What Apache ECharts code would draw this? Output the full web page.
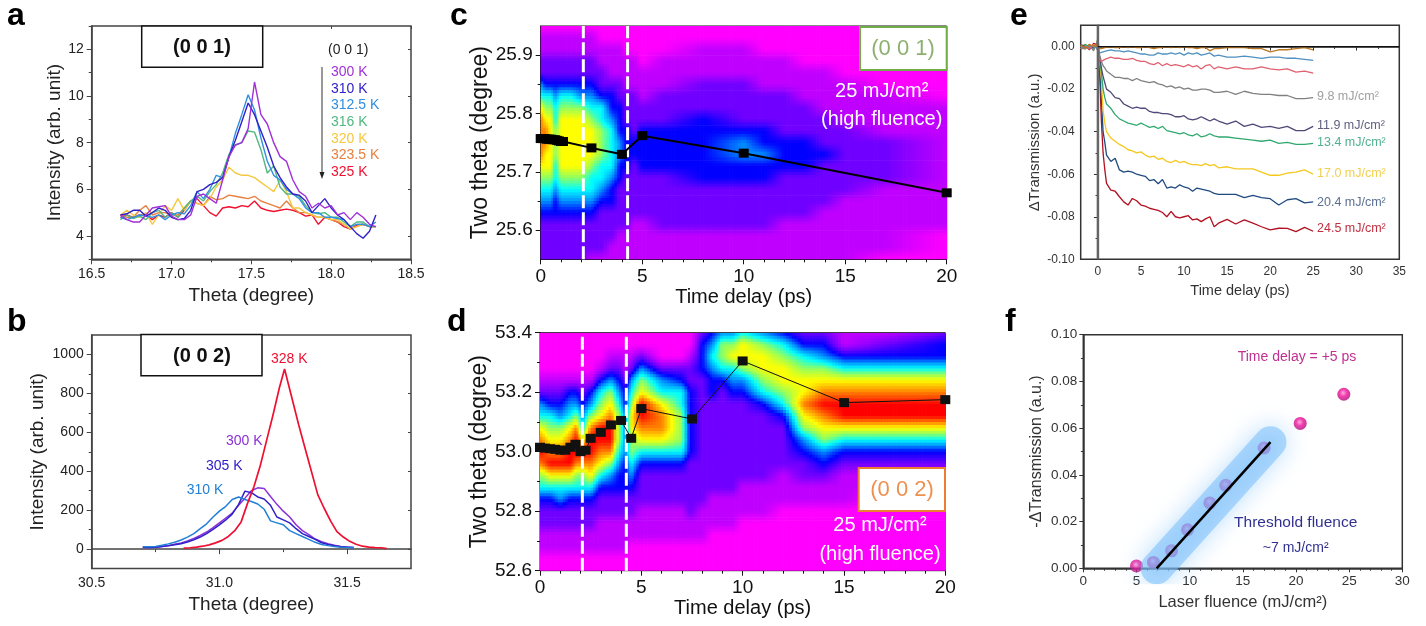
<!DOCTYPE html>
<html><head><meta charset="utf-8">
<style>html,body{margin:0;padding:0;background:#fff}#c{width:1426px;height:626px}</style>
<script src="https://cdn.jsdelivr.net/npm/echarts@6/dist/echarts.min.js"></script>
</head><body><div id="c"></div>
<script>
// ---------- panel a ----------
const thetaA=[16.68,16.72,16.76,16.80,16.84,16.88,16.92,16.96,17.00,17.04,17.08,17.12,17.16,17.20,17.24,17.28,17.32,17.36,17.40,17.44,17.48,17.52,17.56,17.60,17.64,17.68,17.72,17.76,17.80,17.84,17.88,17.92,17.96,18.00,18.04,18.08,18.12,18.16,18.20,18.24,18.28];
const a300=[4.9,4.7,4.6,4.6,4.9,5.2,5.25,5.3,4.85,4.7,4.7,4.9,5.7,5.8,5.6,5.4,6.4,7.4,7.9,8.0,8.6,10.6,9.2,8.8,8.0,7.4,7.2,6.4,5.9,5.7,5.2,5.4,5.2,5.3,4.9,5.0,4.7,5.0,4.8,4.5,4.4];
const a310=[4.9,4.95,5.1,5.1,4.85,5.0,5.2,5.1,4.8,4.7,4.75,5.1,5.9,6.0,6.2,6.3,6.5,7.4,8.1,8.9,9.7,9.2,8.5,7.8,7.0,6.5,6.1,5.8,5.75,5.5,5.0,5.3,5.6,5.2,4.9,4.7,4.4,4.1,3.9,4.2,4.9];
const a3125=[4.8,4.7,4.8,4.9,4.85,4.8,4.9,4.7,4.9,5.0,4.95,5.3,5.9,5.6,6.0,6.6,6.5,7.4,8.4,9.2,10.05,9.4,8.2,7.2,6.6,6.4,6.0,5.8,5.6,5.2,5.0,5.0,4.8,4.8,4.75,4.7,4.4,4.5,4.5,4.4,4.6];
const a316=[4.7,4.9,4.75,4.85,4.7,5.0,5.1,4.8,5.0,4.8,5.2,5.5,5.7,5.5,5.9,6.2,6.7,7.5,7.9,8.0,8.5,8.45,7.7,6.7,7.0,6.1,5.8,5.8,5.7,5.3,5.0,4.95,5.0,4.8,4.8,4.6,4.4,4.6,4.6,4.4,4.4];
const a320=[4.9,5.1,4.9,4.8,5.0,4.5,4.9,5.3,5.1,5.6,5.1,5.5,5.4,5.3,5.6,6.1,6.4,6.95,6.7,6.6,6.6,6.5,6.3,6.1,5.9,6.4,5.9,5.2,5.2,5.0,4.9,4.8,4.8,4.7,4.7,4.5,4.3,4.4,4.5,4.4,4.4];
const a3235=[4.9,4.8,4.8,5.1,5.3,4.9,5.0,5.0,4.9,4.9,5.2,5.5,5.4,5.3,5.7,5.55,5.6,5.75,5.7,5.65,5.6,5.7,5.5,5.4,5.3,5.2,5.5,5.2,5.0,5.0,4.9,4.8,4.8,4.7,4.6,4.5,4.3,4.4,4.5,4.4,4.4];
const a325=[4.8,4.9,4.8,4.9,4.9,4.7,4.9,4.8,5.0,4.8,5.1,5.5,5.6,5.3,5.0,4.85,5.2,5.25,5.2,5.3,5.25,5.5,5.2,5.1,5.05,5.1,5.15,5.1,5.0,4.85,4.9,4.5,4.8,4.7,4.6,4.4,4.3,4.45,4.5,4.4,4.4];
const aNames=['300 K','310 K','312.5 K','316 K','320 K','323.5 K','325 K'];
const aColors=['#a030d8','#3020c8','#2f8fe0','#50b880','#f5c840','#e88040','#f01030'];
// ---------- panel b ----------
const thetaB=[30.70,30.725,30.75,30.775,30.80,30.825,30.85,30.875,30.90,30.925,30.95,30.975,31.00,31.025,31.05,31.075,31.10,31.125,31.15,31.175,31.20,31.225,31.25,31.275,31.30,31.325,31.35,31.375,31.40,31.425,31.45,31.475,31.50,31.525];
const b300=[8,8,10,14,18,25,32,42,55,70,88,110,135,160,185,225,262,300,315,312,270,230,195,165,125,95,75,52,38,28,20,14,11,8];
const b305=[10,9,10,13,17,22,28,37,48,62,80,102,125,150,180,230,298,290,268,258,225,165,150,135,105,80,65,50,33,24,17,12,10,9];
const b310=[12,12,14,20,27,35,47,62,80,105,130,165,195,220,255,268,255,245,232,205,145,135,125,95,80,65,50,35,24,18,13,10,9,8];
const thetaR=[30.86,30.885,30.91,30.935,30.96,30.985,31.01,31.035,31.06,31.085,31.11,31.135,31.16,31.185,31.21,31.235,31.255,31.285,31.31,31.335,31.36,31.385,31.41,31.435,31.46,31.485,31.51,31.535,31.56,31.585,31.61,31.635,31.655];
const b328=[5,7,10,15,22,32,45,65,95,140,235,320,430,560,690,830,925,770,640,520,400,280,210,145,90,62,40,25,15,10,8,7,3];
// ---------- panel c ----------
const rowsC=[25.95,25.93,25.91,25.89,25.87,25.85,25.83,25.81,25.79,25.77,25.75,25.73,25.71,25.69,25.67,25.65,25.63,25.61,25.59,25.57,25.55];
const timeC=[0,0.25,0.5,0.7,1,1.5,2,2.5,3,3.5,3.9,4.2,4.6,5,6,8,10,11,12,13,14,15,17,20];
const heatC=[
[0,1,1,2,2,4,5,7,8,8,8,8,7,6,5,4,3,2,2,2,2],
[0,1,1,2,2,3,5,6,7,8,8,7,7,6,5,4,3,2,2,2,2],
[0,1,1,2,2,3,5,6,7,7,7,7,7,6,5,4,3,2,2,2,2],
[0,1,1,2,2,3,4,5,5,6,6,6,5,5,4,3,3,2,2,2,2],
[0,1,1,2,2,3,5,6,7,7,7,7,7,6,5,4,3,2,2,2,2],
[0,1,1,2,2,3,5,6,7,7,7,7,7,6,5,4,3,2,2,2,2],
[0,1,1,2,2,3,4,6,7,7,7,7,7,6,5,4,3,2,2,2,2],
[0,1,1,2,2,3,4,5,6,7,7,7,6,5,5,4,3,2,2,2,1],
[0,0,1,1,2,2,3,5,5,6,6,6,5,5,4,3,2,2,2,2,1],
[0,0,1,1,1,2,3,3,4,5,5,5,5,4,3,3,2,2,2,1,1],
[0,0,1,1,1,2,2,3,3,3,4,4,3,3,2,2,2,2,1,1,1],
[0,0,0,1,1,1,2,2,2,3,3,3,3,2,2,2,2,2,1,1,1],
[0,0,0,1,1,1,2,2,2,2,3,3,2,2,2,2,2,1,1,1,1],
[0,0,0,0,1,1,1,2,2,3,3,3,3,2,2,2,2,1,1,1,1],
[0,0,0,1,1,1,2,2,2,3,3,3,3,2,2,2,2,2,1,1,1],
[0,0,1,1,1,2,2,2,3,3,3,3,3,3,2,2,2,2,1,1,1],
[0,0,1,1,1,2,2,2,2,3,4,4,3,3,2,2,2,2,1,1,1],
[0,0,0,1,1,1,2,2,2,3,3,4,3,3,2,2,2,2,1,1,1],
[0,0,0,1,1,1,2,2,2,2,3,3,3,2,2,2,2,1,1,1,1],
[0,0,0,0,1,1,1,2,2,2,3,3,3,2,2,2,2,1,1,1,1],
[0,0,0,0,1,1,1,1,2,2,2,3,2,2,2,2,1,1,1,1,1],
[0,0,0,0,0,1,1,1,1,2,2,2,2,2,2,1,1,1,1,1,1],
[0,0,0,0,0,0,1,1,1,1,2,2,2,2,1,1,1,1,1,1,0],
[0,0,0,0,0,0,0,1,1,1,1,1,1,1,1,1,1,1,0,0,0]];
const peakTimeC=[0,0.1,0.2,0.3,0.4,0.5,0.6,0.7,0.8,0.9,1.0,1.1,2.5,4,5,10,20];
const peakPosC=[25.757,25.757,25.757,25.756,25.756,25.756,25.755,25.755,25.754,25.753,25.752,25.752,25.741,25.73,25.762,25.732,25.664];
// ---------- panel d ----------
const rowsD=[53.40,53.36,53.32,53.28,53.24,53.20,53.16,53.12,53.08,53.04,53.00,52.96,52.92,52.88,52.84,52.80,52.76,52.72,52.68,52.64,52.60];
const timeD=[0,0.5,1,1.5,1.8,2.1,2.5,3,3.5,3.9,4.2,4.5,5,6,7,7.4,8,8.5,9,9.5,10,11,12,13,14,15,17,20];
const heatD=[
[0,0,0,0,1,2,4,5,7,8,9,8,6,5,3,2,2,1,1,0,0],
[0,0,0,0,1,2,3,5,6,7,8,9,7,5,3,2,2,1,1,0,0],
[0,0,0,0,1,2,3,4,6,7,8,9,7,5,4,2,2,1,1,0,0],
[0,0,0,0,1,3,4,5,7,8,9,9,7,5,3,2,2,1,1,0,0],
[0,0,0,0,1,3,4,6,8,9,9,8,6,5,3,2,2,1,1,0,0],
[0,0,0,0,1,2,3,4,5,7,9,8,6,5,3,2,2,1,1,0,0],
[0,0,0,0,1,3,4,6,8,9,9,8,7,5,3,2,2,1,1,0,0],
[0,0,0,1,3,5,6,7,9,9,8,7,5,3,2,2,1,1,1,0,0],
[0,0,1,2,4,6,7,8,9,9,8,6,4,3,2,2,1,1,1,0,0],
[0,0,1,2,3,4,5,6,6,6,5,4,3,3,2,2,1,1,1,0,0],
[0,0,1,1,2,3,3,4,4,4,4,3,3,3,2,2,1,1,1,0,0],
[0,0,1,2,4,5,6,7,7,6,6,5,4,3,2,2,1,1,0,0,0],
[0,0,2,4,6,7,9,9,8,7,5,3,2,2,2,1,1,1,0,0,0],
[0,0,0,2,4,5,7,8,8,7,5,3,2,2,2,1,1,1,0,0,0],
[0,0,0,2,3,5,5,6,6,6,5,3,2,2,2,1,1,1,0,0,0],
[0,0,1,2,2,3,3,3,3,3,3,2,2,2,2,2,1,1,0,0,0],
[2,3,3,3,2,2,2,2,2,2,2,2,2,2,2,1,1,1,0,0,0],
[3,4,5,4,3,3,2,2,2,2,2,2,2,2,1,1,1,0,0,0,0],
[4,6,6,5,3,2,2,2,2,2,2,2,2,2,1,1,1,0,0,0,0],
[4,6,7,5,4,3,2,2,2,2,2,2,2,2,1,1,1,0,0,0,0],
[5,7,7,6,4,3,2,2,2,2,2,2,2,1,1,1,0,0,0,0,0],
[4,6,7,7,6,5,3,2,2,2,2,2,2,1,1,1,0,0,0,0,0],
[3,5,6,7,7,6,5,3,2,2,2,2,1,1,1,0,0,0,0,0,0],
[2,3,5,6,7,7,8,7,6,4,3,2,2,1,1,0,0,0,0,0,0],
[2,3,4,6,7,8,9,8,7,6,4,3,2,1,1,0,0,0,0,0,0],
[1,1,3,5,7,8,9,9,7,5,3,2,1,1,1,0,0,0,0,0,0],
[1,2,3,5,7,8,9,9,7,5,3,2,1,1,0,0,0,0,0,0,0],
[2,3,3,5,7,8,9,9,7,5,3,2,1,1,0,0,0,0,0,0,0]];
const peakTimeD=[0,0.25,0.5,0.75,1,1.25,1.5,1.75,2,2.25,2.5,3,3.5,4,4.5,5,7.5,10,15,20];
const peakPosD=[53.015,53.012,53.01,53.008,53.005,53.005,53.015,53.025,53.0,53.005,53.045,53.065,53.09,53.105,53.045,53.145,53.11,53.305,53.165,53.175];
const dashC=[2.1,4.28];
const dashD=[2.09,4.26];
// ---------- panel e ----------
const timeE=[-2,-1.5,-1,-0.5,-0.2,0,0.2,0.4,0.6,0.8,1,1.5,2,2.5,3,3.5,4,4.5,5,5.5,6,6.5,7,7.5,8,8.5,9,9.5,10,10.5,11,11.5,12,12.5,13,13.5,14,15,16,17,18,19,20,21,22,23,24,25];
const e245=[-.001,.001,-.0015,.0015,.001,-.002,-.012,-.035,-.05,-.058,-.0643,-.0675,-.068,-.0706,-.073,-.0745,-.0714,-.0725,-.0745,-.075,-.076,-.0765,-.077,-.078,-.08,-.0775,-.08,-.0805,-.08,-.0795,-.0815,-.081,-.0823,-.081,-.08,-.0847,-.083,-.0812,-.0834,-.0815,-.083,-.0847,-.0862,-.0854,-.0855,-.087,-.085,-.0868];
const e204=[.001,-.001,.0005,-.001,.001,-.002,-.01,-.025,-.04,-.045,-.051,-.054,-.0525,-.058,-.059,-.0585,-.059,-.06,-.0605,-.061,-.063,-.0625,-.0645,-.0625,-.0665,-.066,-.0665,-.065,-.066,-.0665,-.068,-.0665,-.067,-.0675,-.068,-.069,-.0695,-.0695,-.0695,-.071,-.07,-.071,-.0715,-.0745,-.072,-.0715,-.0735,-.073];
const e170=[0,.001,-.001,.001,0,-.002,-.007,-.015,-.03,-.036,-.04,-.043,-.0445,-.046,-.047,-.0485,-.049,-.05,-.0495,-.051,-.052,-.0515,-.053,-.0525,-.054,-.0545,-.0535,-.0545,-.054,-.055,-.0555,-.0555,-.056,-.055,-.056,-.0555,-.057,-.0565,-.0575,-.0575,-.0575,-.059,-.0605,-.0605,-.0595,-.059,-.058,-.06];
const e134=[-.001,.001,0,-.001,.001,-.001,-.006,-.012,-.02,-.024,-.027,-.029,-.032,-.034,-.035,-.036,-.0365,-.037,-.036,-.037,-.038,-.0375,-.0385,-.0375,-.0395,-.04,-.0405,-.041,-.0405,-.0415,-.042,-.041,-.0425,-.042,-.041,-.042,-.0425,-.0425,-.043,-.0435,-.044,-.0445,-.044,-.0455,-.045,-.046,-.046,-.0455];
const e119=[.001,0,-.001,0,.001,-.001,-.005,-.01,-.014,-.017,-.02,-.0215,-.024,-.0245,-.027,-.028,-.029,-.0285,-.029,-.029,-.0305,-.031,-.031,-.0315,-.0315,-.032,-.033,-.033,-.0325,-.034,-.0345,-.034,-.033,-.034,-.035,-.034,-.035,-.0365,-.035,-.0375,-.0365,-.038,-.0375,-.0385,-.0375,-.0395,-.0395,-.0375];
const e98=[-.001,-.001,.001,-.002,.001,.004,-.004,-.007,-.009,-.01,-.0115,-.013,-.0145,-.0145,-.015,-.015,-.016,-.015,-.016,-.0165,-.017,-.0165,-.0175,-.018,-.019,-.0185,-.0195,-.019,-.02,-.0195,-.0205,-.0205,-.02,-.02,-.0205,-.0215,-.0215,-.021,-.0225,-.021,-.022,-.0225,-.0225,-.023,-.023,-.0245,-.0245,-.024];
const ePink=[-.001,0,-.001,.001,0,-.002,-.006,-.007,-.0065,-.006,-.0055,-.005,-.0055,-.0055,-.006,-.006,-.0055,-.0065,-.007,-.007,-.008,-.0085,-.0075,-.009,-.008,-.009,-.0085,-.009,-.0095,-.0085,-.0095,-.009,-.0105,-.009,-.0085,-.0105,-.0095,-.0105,-.0095,-.0105,-.0105,-.0095,-.0105,-.011,-.0105,-.012,-.0115,-.0125];
const eSlate=[0,-.001,.0005,0,-.0005,-.001,-.003,-.003,-.0025,-.002,-.002,-.0015,-.002,-.002,-.0025,-.002,-.0025,-.003,-.0035,-.0035,-.004,-.004,-.003,-.0035,-.0035,-.003,-.0035,-.003,-.004,-.003,-.0035,-.003,-.004,-.0035,-.003,-.0045,-.004,-.005,-.005,-.0045,-.005,-.0055,-.005,-.005,-.0055,-.0055,-.006,-.0065];
const eOrange=[.001,-.001,.001,0,.001,-.001,-.001,-.001,-.001,-.0005,-.0005,0,-.0005,-.0005,0,-.0005,0,-.0005,-.0005,0,-.0005,-.001,-.0005,-.0005,0,-.0005,0,-.0005,0,-.0005,-.0005,-.001,-.0005,-.0005,-.002,-.001,-.001,-.0005,-.0005,-.0005,-.001,-.001,-.0025,-.0015,-.0015,-.001,-.0005,-.0015];
const eColors=['#b01020','#1f4a80','#f5c820','#30a870','#504878','#808080','#e06070','#5090c0','#c07820'];
// ---------- panel f ----------
const fluence=[5,6.6,8.3,9.8,11.9,13.4,17,20.4,24.5];
const fTrans=[0.001,0.0025,0.0075,0.0165,0.028,0.0355,0.0515,0.062,0.0745];
const fitX=[6.9,17.6];
const fitY=[0,0.054];

const zip=(x,y)=>x.map((v,i)=>[v,y[i]]);
const FONT='"Liberation Sans",Arial,sans-serif';
const NARROW='"Liberation Sans Narrow","Liberation Sans",Arial,sans-serif';
const grids=[],xAxes=[],yAxes=[],series=[],graphics=[];

function range(a,b,s,d){const r=[];for(let v=a;v<=b+s/1000;v+=s)r.push(+v.toFixed(d+2));return r;}
function addAxis(list,gridIndex,pos,min,max,opt){
  list.push(Object.assign({gridIndex,type:'value',position:pos,min,max,scale:true,splitLine:{show:false},minorTick:{show:false},minorSplitLine:{show:false}},opt));
  return list.length-1;
}
function panel(p){
  const g=grids.length;
  grids.push({left:p.box[0],top:p.box[1],width:p.box[2],height:p.box[3],show:true,borderColor:p.frame,borderWidth:p.frameW,backgroundColor:'transparent',containLabel:false});
  const line={show:true,lineStyle:{color:p.frame,width:p.frameW}};
  const mk=(dim,list,pos,c)=>{
    const idx=addAxis(list,g,pos,c.min,c.max,{
      axisLine:line,
      axisTick:{show:true,length:p.tick,inside:false,customValues:c.major,lineStyle:{color:p.frame,width:1}},
      axisLabel:{show:true,customValues:c.major,margin:p.margin,fontFamily:p.tickFont,fontSize:p.tickSize,color:p.tickColor,formatter:v=>(+v).toFixed(c.d)},
      name:c.name,nameLocation:'middle',nameGap:c.gap,
      nameTextStyle:{fontFamily:p.nameFont||FONT,fontSize:c.size,color:p.nameColor,fontWeight:p.nameWeight||'normal'}
    });
    addAxis(list,g,pos,c.min,c.max,{axisLine:{show:false},axisTick:{show:true,length:p.tick*0.6,inside:false,customValues:c.minor,lineStyle:{color:p.frame,width:1}},axisLabel:{show:false}});
    if(p.mirror){
      addAxis(list,g,dim==='x'?'top':'right',c.min,c.max,{axisLine:{show:false},axisTick:{show:true,length:3,inside:true,customValues:c.major,lineStyle:{color:p.frame,width:1}},axisLabel:{show:false}});
    }
    return idx;
  };
  return {x:mk('x',xAxes,'bottom',p.x),y:mk('y',yAxes,'left',p.y)};
}
function line(ax,data,color,width,extra){
  series.push(Object.assign({type:'line',xAxisIndex:ax.x,yAxisIndex:ax.y,data,symbol:'none',silent:true,animation:false,
    lineStyle:{color,width},itemStyle:{color}},extra||{}));
}
// Colour levels of the false-colour maps
const levels=[[255,0,255],[192,0,255],[112,0,255],[0,0,255],[0,144,255],[0,255,255],[144,255,96],[255,255,0],[255,128,0],[255,0,0]];
function levelColor(v){
  const i=Math.max(0,Math.min(8,Math.floor(v))),f=Math.max(0,Math.min(1,v-i));
  const a=levels[i],b=levels[i+1];
  return 'rgb('+a.map((c,k)=>Math.round(c+(b[k]-c)*f)).join(',')+')';
}
function heat(ax,times,rows,cols){
  const cells=[];
  for(let c=0;c<times.length-1;c++)for(let r=0;r<rows.length-1;r++)
    cells.push([times[c],rows[r],times[c+1],rows[r+1],cols[c][r],cols[c][r+1],cols[c+1][r],cols[c+1][r+1]]);
  series.push({type:'custom',xAxisIndex:ax.x,yAxisIndex:ax.y,silent:true,animation:false,progressive:0,z:1,clip:true,
    encode:{x:[0,2],y:[1,3]},data:cells,
    renderItem(params,api){
      const tl=api.coord([api.value(0),api.value(1)]),br=api.coord([api.value(2),api.value(3)]);
      const v=[api.value(4),api.value(5),api.value(6),api.value(7)];
      const w=br[0]-tl[0],h=br[1]-tl[1];
      const nx=Math.max(1,Math.ceil(w/3)),ny=Math.max(1,Math.ceil(h/3));
      const children=[];
      for(let i=0;i<nx;i++)for(let j=0;j<ny;j++){
        const fx=(i+.5)/nx,fy=(j+.5)/ny;
        const val=(v[0]*(1-fy)+v[1]*fy)*(1-fx)+(v[2]*(1-fy)+v[3]*fy)*fx;
        children.push({type:'rect',shape:{x:tl[0]+w*i/nx,y:tl[1]+h*j/ny,width:w/nx+.7,height:h/ny+.7},style:{fill:levelColor(val)}});
      }
      return {type:'group',children};
    }});
}
function text(x,y,s,fill,size,opt){
  opt=opt||{};
  graphics.push({type:'text',z:100,style:{x,y,text:s,fill,font:(opt.weight||'normal')+' '+size+'px '+(opt.family||FONT),textAlign:opt.align||'left',textVerticalAlign:opt.v||'middle'}});
}
function box(x,y,w,h,stroke,lw,fill){
  graphics.push({type:'rect',z:99,shape:{x,y,width:w,height:h},style:{fill:fill||'#fff',stroke,lineWidth:lw}});
}

// ===== a =====
const pa=panel({box:[91.7,26,319.3,233.3],frame:'#444',frameW:1.5,tick:5,margin:8,tickFont:FONT,tickSize:14,tickColor:'#222',nameColor:'#222',mirror:true,
  x:{min:16.5,max:18.5,major:[16.5,17,17.5,18,18.5],minor:[16.75,17.25,17.75,18.25],d:1,name:'Theta (degree)',gap:27,size:19},
  y:{min:3,max:13,major:[4,6,8,10,12],minor:[3,5,7,9,11,13],d:0,name:'Intensity (arb. unit)',gap:27,size:19}});
[a300,a310,a3125,a316,a320,a3235,a325].forEach((arr,i)=>line(pa,zip(thetaA,arr),aColors[i],1.4,{name:aNames[i],z:2+(6-i)}));
// ===== b =====
const pb=panel({box:[91.7,335,319.3,233.6],frame:'#444',frameW:1.5,tick:5,margin:8,tickFont:FONT,tickSize:14,tickColor:'#222',nameColor:'#222',mirror:true,
  x:{min:30.5,max:31.75,major:[30.5,31,31.5],minor:[30.75,31.25],d:1,name:'Theta (degree)',gap:27,size:19},
  y:{min:-100,max:1100,major:[0,200,400,600,800,1000],minor:[100,300,500,700,900],d:0,name:'Intensity (arb. unit)',gap:44,size:19}});
line(pb,zip(thetaB,b300),'#8a30d8',1.5,{name:'300 K'});
line(pb,zip(thetaB,b305),'#3020c8',1.5,{name:'305 K'});
line(pb,zip(thetaB,b310),'#2080d8',1.5,{name:'310 K'});
line(pb,zip(thetaR,b328),'#ee1030',1.7,{name:'328 K'});
// ===== c =====
const pc=panel({box:[540.7,26,406,233.3],frame:'#111',frameW:1,tick:5,margin:8,tickFont:NARROW,tickSize:19,tickColor:'#111',nameColor:'#111',
  x:{min:0,max:20,major:[0,5,10,15,20],minor:[1,2,3,4,6,7,8,9,11,12,13,14,16,17,18,19],d:0,name:'Time delay (ps)',gap:27,size:20},
  y:{min:25.55,max:25.95,major:[25.6,25.7,25.8,25.9],minor:[25.65,25.75,25.85],d:1,name:'Two theta (degree)',gap:44,size:23}});
heat(pc,timeC,rowsC,heatC);
dashC.forEach(t=>line(pc,[[t,25.55],[t,25.95]],'#fff',3,{z:3,lineStyle:{color:'#fff',width:3,type:[13,4]}}));
line(pc,zip(peakTimeC,peakPosC),'#000',2,{z:4,symbol:'rect',symbolSize:[10,9],showSymbol:true,name:'peak'});
// ===== d =====
const pd=panel({box:[540,332.7,405.3,238],frame:'#111',frameW:1,tick:5,margin:8,tickFont:NARROW,tickSize:19,tickColor:'#111',nameColor:'#111',
  x:{min:0,max:20,major:[0,5,10,15,20],minor:[1,2,3,4,6,7,8,9,11,12,13,14,16,17,18,19],d:0,name:'Time delay (ps)',gap:28,size:20},
  y:{min:52.6,max:53.4,major:[52.6,52.8,53,53.2,53.4],minor:[52.7,52.9,53.1,53.3],d:1,name:'Two theta (degree)',gap:44,size:23}});
heat(pd,timeD,rowsD,heatD);
dashD.forEach(t=>line(pd,[[t,52.6],[t,53.4]],'#fff',3,{z:3,lineStyle:{color:'#fff',width:3,type:[13,4]}}));
line(pd,zip(peakTimeD,peakPosD),'#111',1,{z:4,symbol:'rect',symbolSize:[10,9],showSymbol:true,name:'peak'});
// ===== e =====
const pe=panel({box:[1080.7,25.3,318.6,234],frame:'#333',frameW:1.5,tick:4,margin:6,tickFont:FONT,tickSize:12,tickColor:'#333',nameColor:'#333',mirror:true,
  x:{min:-2,max:35,major:[0,5,10,15,20,25,30,35],minor:[2.5,7.5,12.5,17.5,22.5,27.5,32.5],d:0,name:'Time delay (ps)',gap:24,size:14.5},
  y:{min:-0.1,max:0.01,major:[-0.1,-0.08,-0.06,-0.04,-0.02,0],minor:[-0.09,-0.07,-0.05,-0.03,-0.01],d:2,name:'\u0394Transmission (a.u.)',gap:38,size:15}});
line(pe,[[0,-0.1],[0,0.01]],'#666',2.5,{z:6});
line(pe,[[0,0],[35,0]],'#111',1.2,{z:6});
[e245,e204,e170,e134,e119,e98,ePink,eSlate,eOrange].forEach((arr,i)=>line(pe,zip(timeE,arr),eColors[i],1.3,{z:3}));
// ===== f =====
const pf=panel({box:[1083.3,334.7,319,233.6],frame:'#333',frameW:1.5,tick:4,margin:6,tickFont:FONT,tickSize:13.5,tickColor:'#333',nameColor:'#333',mirror:true,
  x:{min:0,max:30,major:[0,5,10,15,20,25,30],minor:[1,2,3,4,6,7,8,9,11,12,13,14,16,17,18,19,21,22,23,24,26,27,28,29],d:0,name:'Laser fluence (mJ/cm\u00b2)',gap:26,size:16.5},
  y:{min:0,max:0.1,major:[0,0.02,0.04,0.06,0.08,0.1],minor:[0.01,0.03,0.05,0.07,0.09],d:2,name:'-\u0394Transmission (a.u.)',gap:39,size:16}});
series.push({type:'scatter',xAxisIndex:pf.x,yAxisIndex:pf.y,data:zip(fluence,fTrans),symbol:'circle',symbolSize:13,silent:true,animation:false,z:2,
  itemStyle:{color:new echarts.graphic.RadialGradient(0.45,0.4,0.6,[{offset:0,color:'#ff9ad8'},{offset:0.45,color:'#f0109a'},{offset:1,color:'#b00878'}])}});
line(pf,zip(fitX,fitY),'rgba(120,190,250,0.55)',32,{z:3,lineStyle:{color:'rgba(120,190,250,0.55)',width:32,cap:'round',shadowBlur:24,shadowColor:'rgba(120,190,250,0.9)'}});
line(pf,zip(fitX,fitY),'#000',2.5,{z:4});

// ---------- annotations ----------
[['a',7,32],['b',7,338],['c',450,32],['d',447,338],['e',1010,32],['f',1005,338]].forEach(l=>text(l[1],l[2],l[0],'#000',32,{weight:'bold',v:'bottom'}));
box(141.7,26,121,41.3,'#111',1.5);text(202,47,'(0 0 1)','#111',20,{weight:'bold',align:'center'});
box(141,334.5,121,41.3,'#111',1.5);text(202,356,'(0 0 2)','#111',20,{weight:'bold',align:'center'});
text(328,50,'(0 0 1)','#222',14);
const aLabelY=[72,89,105.5,122,139,155,172];
aNames.forEach((n,i)=>text(331,aLabelY[i],n,aColors[i],14));
graphics.push({type:'line',z:100,shape:{x1:322,y1:67,x2:322,y2:175},style:{stroke:'#555',lineWidth:1.2}});
graphics.push({type:'polygon',z:100,shape:{points:[[319.5,172],[324.5,172],[322,179]]},style:{fill:'#222'}});
text(271,359,'328 K','#ee1030',14);text(226,440.7,'300 K','#8a30d8',14);text(206,465.7,'305 K','#3020c8',14);text(186.7,490,'310 K','#2080d8',14);
box(860,27,86.7,43,'#70ad47',2);text(903,49,'(0 0 1)','#8db070',22,{align:'center'});
text(881.7,91,'25 mJ/cm\u00b2','#fff',20,{align:'center'});text(881.7,119,'(high fluence)','#fff',20,{align:'center'});
box(858.7,468,86.3,43,'#ed7d31',2);text(902,490,'(0 0 2)','#ed9050',22,{align:'center'});
text(880,525,'25 mJ/cm\u00b2','#fff',20,{align:'center'});text(880,554,'(high fluence)','#fff',20,{align:'center'});
[['9.8 mJ/cm\u00b2',97,'#a0a0a0'],['11.9 mJ/cm\u00b2',126,'#606080'],['13.4 mJ/cm\u00b2',143,'#50b090'],['17.0 mJ/cm\u00b2',174,'#f0d050'],['20.4 mJ/cm\u00b2',203,'#5a7090'],['24.5 mJ/cm\u00b2',229,'#c03040']].forEach(l=>text(1317,l[1],l[0],l[2],12.5));
text(1297,356.7,'Time delay = +5 ps','#c0308f',14,{align:'center'});
text(1295.7,523,'Threshold fluence','#303090',15.5,{align:'center'});
text(1295.7,548,'~7 mJ/cm\u00b2','#303090',14,{align:'center'});

const chart=echarts.init(document.getElementById('c'),null,{renderer:'canvas'});
chart.setOption({animation:false,backgroundColor:'#fff',grid:grids,xAxis:xAxes,yAxis:yAxes,series,graphic:{elements:graphics}});
</script></body></html>
